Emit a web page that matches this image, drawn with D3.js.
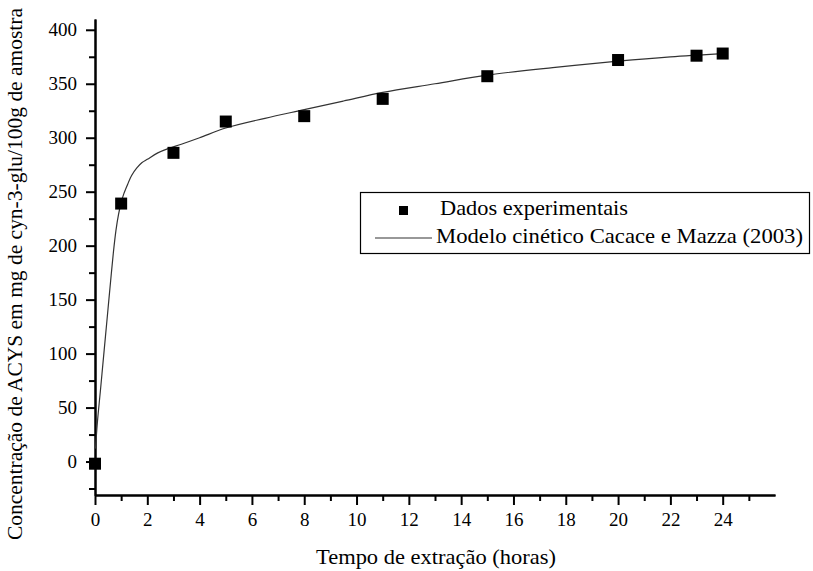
<!DOCTYPE html>
<html>
<head>
<meta charset="utf-8">
<script src="https://cdn.jsdelivr.net/npm/d3@7"></script>
<style>
    body { margin: 0; background: #fff; }
    .axis path, .axis line { stroke: #000; stroke-width: 2; }
    .model { fill: none; stroke: #333; stroke-width: 1.2; }
</style>
</head>
<body>
<div id="chart"></div>
<script>
var FONT = "'Liberation Serif'";

// experimental data
var tempo = [0, 1, 3, 5, 8, 11, 15, 20, 23, 24];
var concentracao = [-2, 239, 286, 315, 320, 336, 357, 372, 376, 378];

// model curve
var modeloT = [0.02, 0.09, 0.2, 0.3, 0.4, 0.5, 0.6, 0.7, 0.8, 0.9, 1.0, 1.1, 1.25, 1.4, 1.6, 1.8, 2.0, 2.4, 2.8, 3.3, 4.0, 5.0, 6.5, 8.0, 9.5, 11.0, 13.0, 15.0, 17.5, 20.0, 22.0, 24.0];
var modeloV = [12, 36, 64, 90, 116, 142, 168, 193, 214, 229, 240, 248, 257, 265, 272, 277, 280, 286, 290, 294, 300, 309, 318, 326, 334, 342, 350, 358, 365, 371, 375, 378];

var xTicks = [0, 2, 4, 6, 8, 10, 12, 14, 16, 18, 20, 22, 24];
var xMinor = [1, 3, 5, 7, 9, 11, 13, 15, 17, 19, 21, 23, 25];
var yTicks = [0, 50, 100, 150, 200, 250, 300, 350, 400];
var yMinor = [-25, 25, 75, 125, 175, 225, 275, 325, 375];

var legendItems = ["Dados experimentais", "Modelo cinético Cacace e Mazza (2003)"];

function init() {
    var W = 813, H = 571;
    var left = 95, right = 775, top = 19, bottom = 495;

    var svg = d3.select("#chart")
        .append("svg")
        .attr("width", W)
        .attr("height", H);

    var xScale = d3.scaleLinear().domain([0, 26]).range([left, right]);
    var yScale = d3.scaleLinear().domain([-31, 410]).range([bottom, top]);

    // minor ticks
    svg.append("g")
        .attr("class", "axis")
        .attr("transform", "translate(0," + bottom + ")")
        .call(d3.axisBottom(xScale).tickValues(xMinor).tickSize(6).tickSizeOuter(0).tickFormat(""));
    svg.append("g")
        .attr("class", "axis")
        .attr("transform", "translate(" + left + ",0)")
        .call(d3.axisLeft(yScale).tickValues(yMinor).tickSize(6).tickSizeOuter(0).tickFormat(""));

    // major ticks
    svg.append("g")
        .attr("class", "axis")
        .attr("transform", "translate(0," + bottom + ")")
        .call(d3.axisBottom(xScale).tickValues(xTicks).tickSize(10).tickSizeOuter(0).tickPadding(8));
    svg.append("g")
        .attr("class", "axis")
        .attr("transform", "translate(" + left + ",0)")
        .call(d3.axisLeft(yScale).tickValues(yTicks).tickSize(9).tickSizeOuter(0).tickPadding(9));
    svg.selectAll(".axis").attr("font-family", FONT).attr("font-size", 19);
    svg.selectAll(".axis text").attr("fill", "#000");

    // model line
    var line = d3.line()
        .x(function (d) { return xScale(d); })
        .y(function (d, i) { return yScale(modeloV[i]); })
        .curve(d3.curveCatmullRom.alpha(0.5));

    svg.append("path")
        .datum(modeloT)
        .attr("class", "model")
        .attr("d", line);

    // data points
    var s = 12;
    svg.selectAll(".pt")
        .data(tempo)
        .enter()
        .append("rect")
        .attr("class", "pt")
        .attr("x", function (d) { return xScale(d) - s / 2; })
        .attr("y", function (d, i) { return yScale(concentracao[i]) - s / 2; })
        .attr("width", s)
        .attr("height", s)
        .attr("fill", "#000");

    // legend
    var lg = svg.append("g").attr("font-family", FONT).attr("font-size", 21);
    lg.append("rect")
        .attr("x", 360.5).attr("y", 192.5)
        .attr("width", 449).attr("height", 61)
        .attr("fill", "#fff").attr("stroke", "#000").attr("stroke-width", 1.2);
    lg.append("rect")
        .attr("x", 399).attr("y", 206)
        .attr("width", 9).attr("height", 9)
        .attr("fill", "#000");
    lg.append("line")
        .attr("x1", 375).attr("x2", 432)
        .attr("y1", 238).attr("y2", 238)
        .attr("stroke", "#333").attr("stroke-width", 1.2);
    lg.append("text")
        .attr("x", 440).attr("y", 215)
        .attr("textLength", 188).attr("lengthAdjust", "spacingAndGlyphs")
        .text(legendItems[0]);
    lg.append("text")
        .attr("x", 436).attr("y", 243)
        .attr("textLength", 367).attr("lengthAdjust", "spacingAndGlyphs")
        .text(legendItems[1]);

    // axis labels
    svg.append("text")
        .attr("x", 316)
        .attr("y", 564)
        .attr("font-family", FONT)
        .attr("font-size", 21)
        .attr("textLength", 240).attr("lengthAdjust", "spacingAndGlyphs")
        .text("Tempo de extração (horas)");

    svg.append("text")
        .attr("transform", "translate(22,540) rotate(-90)")
        .attr("font-family", FONT)
        .attr("font-size", 21)
        .attr("textLength", 532).attr("lengthAdjust", "spacingAndGlyphs")
        .text("Concentração de ACYS em mg de cyn-3-glu/100g de amostra");
}

init();
</script>
</body>
</html>
